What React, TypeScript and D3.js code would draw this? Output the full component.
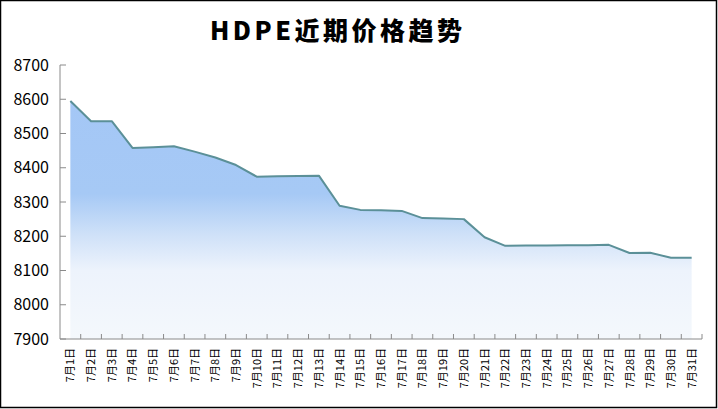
import React from "react";
import * as d3 from "d3";

const categories: string[] = Array.from({ length: 31 }, (_, i) => `7月${i + 1}日`);
const values: number[] = [
  8595, 8536, 8536, 8458, 8460, 8463, 8447, 8430, 8408, 8374,
  8375, 8376, 8377, 8289, 8277, 8276, 8274, 8253, 8252, 8250,
  8197, 8172, 8173, 8173, 8174, 8174, 8175, 8151, 8152, 8137, 8137,
];
const yTicks: number[] = [7900, 8000, 8100, 8200, 8300, 8400, 8500, 8600, 8700];
const title = "HDPE近期价格趋势";

const W = 718;
const H = 409;
const left = 60;
const right = 702;
const top = 65;
const bottom = 339;

export default function App() {
  const x = d3.scaleBand<string>().domain(categories).range([left, right]).padding(0);
  const y = d3.scaleLinear().domain([7900, 8700]).range([bottom, top]);
  const cx = (c: string) => (x(c) as number) + x.bandwidth() / 2;
  const data = categories.map((c, i) => ({ c, v: values[i] }));
  const area = d3
    .area<{ c: string; v: number }>()
    .x((d) => cx(d.c))
    .y0(y(7900))
    .y1((d) => y(d.v));
  const line = d3
    .line<{ c: string; v: number }>()
    .x((d) => cx(d.c))
    .y((d) => y(d.v));
  const font = "'Noto Sans CJK SC', 'Noto Sans', sans-serif";
  const axisColor = "#8a8a8a";
  return (
    <svg
      width={W}
      height={H}
      style={{ position: "absolute", left: 0, top: 0, display: "block" }}
      fontFamily={font}
    >
      <defs>
        <linearGradient id="ag" gradientUnits="userSpaceOnUse" x1="0" y1={top} x2="0" y2={bottom}>
          <stop offset="0" stopColor="#a4c7f6" />
          <stop offset="0.13" stopColor="#a4c7f6" />
          <stop offset="0.47" stopColor="#a6c9f5" />
          <stop offset="0.62" stopColor="#cfe1f8" />
          <stop offset="0.75" stopColor="#edf3fc" />
          <stop offset="1" stopColor="#f4f8fc" />
        </linearGradient>
      </defs>
      <rect x={0} y={0} width={W} height={H} fill="#fff" />
      <rect x={0.5} y={0.5} width={716} height={407} fill="none" stroke="#000" strokeWidth={1.5} />
      <text x={210} y={40} fontSize={25} fontWeight={900} letterSpacing={3.5} fill="#000">
        {title}
      </text>
      <path d={area(data) || ""} fill="url(#ag)" />
      <path d={line(data) || ""} fill="none" stroke="#5b9098" strokeWidth={2} strokeLinejoin="round" />
      {/* y axis */}
      <line x1={left} x2={left} y1={top} y2={bottom} stroke={axisColor} strokeWidth={1} />
      {yTicks.map((t) => (
        <g key={t}>
          <line x1={left} x2={left + 6} y1={y(t)} y2={y(t)} stroke={axisColor} />
          <text x={49} y={y(t) + 5.5} textAnchor="end" fontSize={16} fill="#000">
            {t}
          </text>
        </g>
      ))}
      {/* x axis */}
      <line x1={left} x2={right} y1={bottom} y2={bottom} stroke={axisColor} />
      {categories.map((c) => (
        <line
          key={"t" + c}
          x1={(x(c) as number) + x.bandwidth()}
          x2={(x(c) as number) + x.bandwidth()}
          y1={bottom}
          y2={bottom - 5}
          stroke={axisColor}
        />
      ))}
      {categories.map((c) => (
        <text
          key={c}
          transform={`translate(${cx(c) + 4},348) rotate(-90)`}
          textAnchor="end"
          fontSize={11}
          fill="#000"
        >
          {c}
        </text>
      ))}
    </svg>
  );
}
